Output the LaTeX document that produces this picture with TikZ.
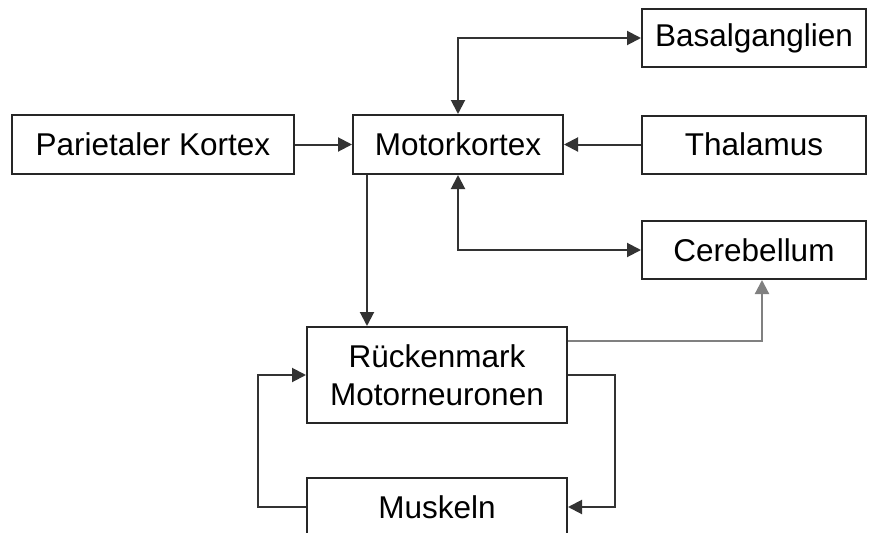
\documentclass[tikz,border=0pt]{standalone}
\usepackage{fontspec}
\setmainfont{Liberation Sans}
\usetikzlibrary{arrows.meta,calc}
\begin{document}
\begin{tikzpicture}[x=1pt,y=-1pt,
  box/.style={draw=black!85,line width=2pt,fill=white,inner sep=0pt,align=center,
    font=\fontsize{31.5}{38.5}\selectfont},
  tip/.style={Triangle[length=14pt,width=14pt]},
  arr/.style={draw=black!80,line width=2pt,-{Triangle[length=14pt,width=14pt]}},
  biarr/.style={draw=black!80,line width=2pt,{Triangle[length=14pt,width=14pt]}-{Triangle[length=14pt,width=14pt]}},
  grayarr/.style={draw=black!50,line width=2.2pt,-{Triangle[length=14pt,width=14pt]}}]
\useasboundingbox (0,0) rectangle (876,533);
\clip (0,0) rectangle (876,533);
\node[box,minimum width=282pt,minimum height=59pt] (pk) at (153,144.5) {Parietaler Kortex};
\node[box,minimum width=210pt,minimum height=59pt] (mk) at (458,144.5) {Motorkortex};
\node[box,minimum width=224pt,minimum height=58pt] (bg) at (754,38) {Basalganglien};
\node[box,minimum width=224pt,minimum height=58pt] (th) at (754,144.5) {Thalamus};
\node[box,minimum width=224pt,minimum height=58pt] (cb) at (754,250) {Cerebellum};
\node[box,minimum width=260pt,minimum height=96pt] (rm) at (437,375) {Rückenmark\\Motorneuronen};
\node[box,minimum width=260pt,minimum height=58pt] (mu) at (437,507) {Muskeln};
\coordinate (mkd) at ($(mk.south west)+(15,0)$);
\coordinate (rmc) at ($(rm.north east)+(0,15)$);
\coordinate (cbs) at ($(cb.south)+(8,0)$);
\draw[arr] (pk) -- (mk);
\draw[arr] (th) -- (mk);
\draw[biarr] (mk.north) |- (bg.west);
\draw[biarr] (mk.south) |- (cb.west);
\draw[arr] (mkd) -- (mkd |- rm.north);
\draw[grayarr] (rmc) -| (cbs);
\draw[arr] (rm.east) -- ++(47,0) |- (mu.east);
\draw[arr] (mu.west) -- ++(-48,0) |- (rm.west);
\end{tikzpicture}
\end{document}
